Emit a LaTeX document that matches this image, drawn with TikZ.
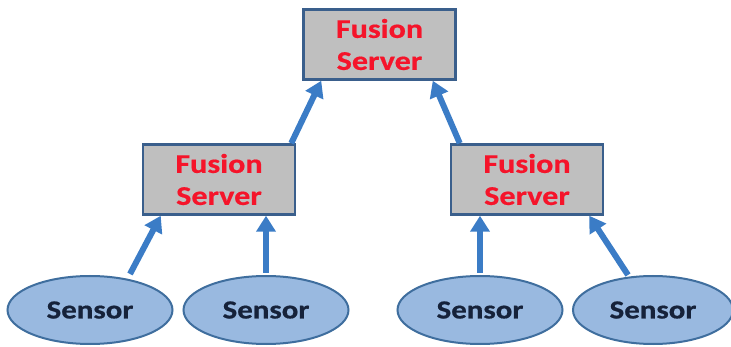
\documentclass[tikz,border=0pt]{standalone}
\usepackage{fontspec}
\usetikzlibrary{arrows.meta,shapes.geometric,calc}
\newfontfamily\labelfont[FakeStretch=1.19,BoldFeatures={FakeBold=0.6}]{Carlito}
\definecolor{boxgray}{HTML}{BFBFBF}
\definecolor{boxedge}{HTML}{3A5F8C}
\definecolor{servred}{HTML}{F5142A}
\definecolor{sensfill}{HTML}{99B9E0}
\definecolor{sensedge}{HTML}{3F6E9E}
\definecolor{sensink}{HTML}{16223A}
\definecolor{flow}{HTML}{3B7CC6}
\tikzset{
  server/.style={draw=boxedge, line width=2.5pt, fill=boxgray, rectangle,
    minimum width=152pt, minimum height=70pt, inner sep=0pt, align=center,
    text=servred, font=\labelfont\bfseries\fontsize{27}{32}\selectfont},
  sensor/.style={draw=sensedge, line width=2pt, fill=sensfill, ellipse,
    minimum width=165pt, minimum height=68pt, inner sep=0pt,
    text=sensink, font=\labelfont\bfseries\fontsize{26}{30}\selectfont},
  feed/.style={draw=flow, line width=6pt,
    -{Triangle[width=19pt,length=16pt]}}
}
\begin{document}
\begin{tikzpicture}[x=1pt,y=-1pt]
  \useasboundingbox (0,0) rectangle (731,347);
  % fusion hierarchy
  \node[server] (top)   at (379.5,44.5) {Fusion\\Server};
  \node[server] (left)  at (219,179.5)  {Fusion\\Server};
  \node[server] (right) at (527,179.5)  {Fusion\\Server};
  % sensors
  \node[sensor] (s1) at (90,310)  {Sensor};
  \node[sensor] (s2) at (266,310) {Sensor};
  \node[sensor] (s3) at (480,310) {Sensor};
  \node[sensor, minimum width=160pt] (s4) at (653,310) {Sensor};
  % data flow from sensors to the first fusion level
  \draw[feed] ($(s1.center)+(40,-36)$) -- ($(left.south west)+(19,0)$);
  \draw[feed] ($(s2.north)+(0,-2)$) -- ($(s2.north |- left.south)$);
  \draw[feed] ($(s3.north)+(0,-2)$) -- ($(s3.north |- right.south)$);
  \draw[feed] ($(s4.center)+(-25,-35)$) -- ($(right.south east)+(-15,0)$);
  % first fusion level to the top server
  \draw[feed] ($(left.north east)+(-5,0)$) -- ($(top.south west)+(19,0)$);
  \draw[feed] ($(right.north west)+(10,0)$) -- ($(top.south east)+(-24,0)$);
\end{tikzpicture}
\end{document}
